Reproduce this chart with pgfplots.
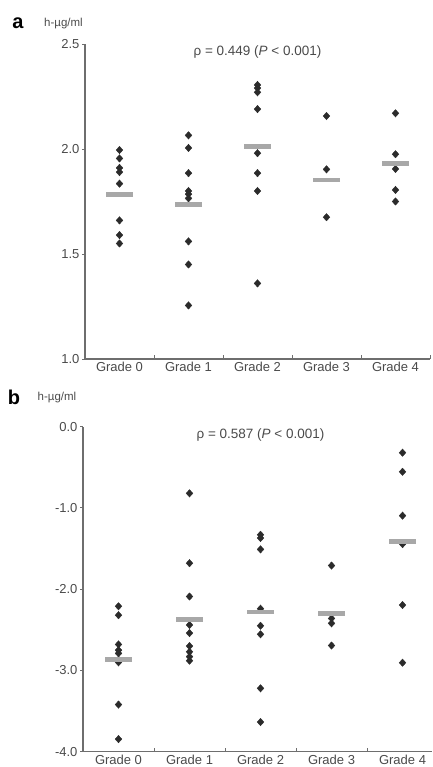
\documentclass[border=0pt]{standalone}
\usepackage{fontspec}
\setmainfont{Liberation Sans}
\usepackage{pgfplots}
\pgfplotsset{compat=1.18}
\definecolor{axgray}{HTML}{6E6E6E}
\definecolor{txtgray}{HTML}{4A4A4A}
\definecolor{ptcol}{HTML}{2B2B2B}
\definecolor{barcol}{HTML}{A8A8A8}

\pgfplotsset{
  panel/.style={
    scale only axis,
    anchor=south west,
    axis lines*=left,
    axis line style={axgray, line width=1.1pt},
    /pgf/number format/assume math mode=true,
    xtick={0,1,2,3,4},
    xticklabels={Grade 0,Grade 1,Grade 2,Grade 3,Grade 4},
    major x tick style={draw=none},
    minor xtick={0.5,1.5,2.5,3.5,4.5},
    minor x tick style={axgray, line width=0.9pt},
    minor tick length=4pt,
    xtick align=inside,
    ytick align=outside,
    major y tick style={axgray, line width=0.9pt},
    major tick length=3pt,
    tick label style={font=\fontsize{13}{15}\selectfont, color=txtgray},
    y tick label style={/pgf/number format/fixed, /pgf/number format/fixed zerofill, /pgf/number format/precision=1, xshift=1pt},
    clip=false,
  },
  pts/.style={only marks, mark=diamond*, mark size=3.7pt, mark options={fill=ptcol, draw=ptcol, xscale=1.2}},
  bars/.style={only marks, mark=-, mark size=13.5pt, mark options={draw=barcol, line width=4.8pt, solid}},
}

\begin{document}
\begin{tikzpicture}
\useasboundingbox (0,0) rectangle (432pt,767pt);

% ---------------- panel a ----------------
\begin{axis}[panel, at={(85pt,408pt)}, width=345pt, height=315pt,
  xmin=-0.5, xmax=4.5, ymin=1.0, ymax=2.5, ytick={1.0,1.5,2.0,2.5}]
\addplot[pts] coordinates {
 (0,1.995) (0,1.955) (0,1.91) (0,1.89) (0,1.835) (0,1.66) (0,1.59) (0,1.55)
 (1,2.065) (1,2.005) (1,1.885) (1,1.80) (1,1.785) (1,1.765) (1,1.56) (1,1.45) (1,1.255)
 (2,2.305) (2,2.29) (2,2.27) (2,2.19) (2,1.98) (2,1.885) (2,1.80) (2,1.36)
 (3,2.157) (3,1.903) (3,1.675)
 (4,2.17) (4,1.975) (4,1.905) (4,1.805) (4,1.75)
};
\addplot[bars] coordinates {(0,1.785) (1,1.735) (2,2.012) (3,1.852) (4,1.93)};
\node[font=\fontsize{13.5}{15}\selectfont, color=txtgray] at (axis cs:2,2.463) {ρ = 0.449 (\textit{P} < 0.001)};
\end{axis}

% ---------------- panel b ----------------
\begin{axis}[panel, at={(83pt,15.3pt)}, width=349pt, height=325pt,
  xmin=-0.5, xmax=4.415, ymin=-4.0, ymax=0.0, ytick={-4,-3,-2,-1,0}]
\addplot[pts] coordinates {
 (0,-2.21) (0,-2.32) (0,-2.68) (0,-2.75) (0,-2.79) (0,-2.90) (0,-3.42) (0,-3.845)
 (1,-0.82) (1,-1.68) (1,-2.09) (1,-2.44) (1,-2.54) (1,-2.70) (1,-2.77) (1,-2.83) (1,-2.88)
 (2,-1.33) (2,-1.37) (2,-1.51) (2,-2.24) (2,-2.45) (2,-2.555) (2,-3.22) (2,-3.635)
 (3,-1.709) (3,-2.36) (3,-2.42) (3,-2.693)
 (4,-0.32) (4,-0.555) (4,-1.095) (4,-1.445) (4,-2.195) (4,-2.905)
};
\addplot[bars] coordinates {(0,-2.87) (1,-2.37) (2,-2.28) (3,-2.30) (4,-1.415)};
\node[font=\fontsize{13.5}{15}\selectfont, color=txtgray] at (axis cs:2,-0.102) {ρ = 0.587 (\textit{P} < 0.001)};
\end{axis}

% panel letters and units
\node[font=\fontsize{20}{22}\selectfont\bfseries] at (18pt,744pt) {a};
\node[font=\fontsize{11.5}{13}\selectfont, color=txtgray] at (63.5pt,743pt) {h-µg/ml};
\node[font=\fontsize{20}{22}\selectfont\bfseries] at (14pt,370pt) {b};
\node[font=\fontsize{11.5}{13}\selectfont, color=txtgray] at (57pt,369pt) {h-µg/ml};
\end{tikzpicture}
\end{document}
